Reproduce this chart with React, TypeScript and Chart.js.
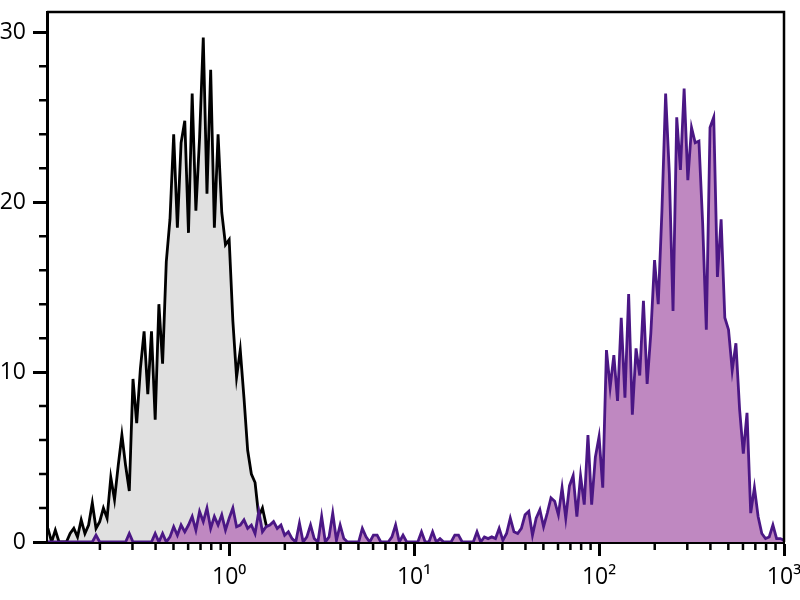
import { useEffect, useRef } from "react";
import { Chart, registerables, type ChartConfiguration, type Plugin } from "chart.js";

Chart.register(...registerables);

// histogram bins are evenly spaced in log10(fluorescence)
const BIN_START = -0.98;
const BIN_WIDTH = 0.02;

const X_MIN = -0.985;
const X_MAX = 3;
const Y_MAX = 31.2;

const DECADES = [0, 1, 2, 3];
const DECADE_LABELS = ["10⁰", "10¹", "10²", "10³"];
const COUNT_TICKS = [0, 10, 20, 30];

// unstained control (grey)
const CONTROL_COUNTS = [
  0.8, 0, 0.7, 0, 0, 0, 0.5, 0.8, 0.3, 1.3,
  0.5, 1.0, 2.3, 0.8, 1.2, 2.0, 1.4, 3.8, 2.5, 4.5,
  6.3, 4.5, 3.0, 9.6, 7.0, 10.2, 12.4, 8.7, 12.4, 7.2,
  14.0, 10.5, 16.5, 19.0, 24.0, 18.5, 23.5, 24.8, 18.2, 26.4,
  19.5, 23.8, 29.7, 20.5, 27.8, 18.5, 24.0, 19.4, 17.5, 17.8,
  13.0, 9.7, 11.3, 8.5, 5.4, 4.0, 3.5, 1.5, 2.0, 1.0,
  0.3, 0,
];

// stained sample (purple)
const STAINED_COUNTS = [
  0, 0, 0, 0, 0, 0, 0, 0, 0, 0,
  0, 0, 0, 0.4, 0, 0, 0, 0, 0, 0,
  0, 0, 0.5, 0, 0, 0, 0, 0, 0, 0.5,
  0, 0.5, 0, 0.3, 0.9, 0.4, 1.0, 0.6, 1.0, 1.5,
  0.7, 1.8, 1.2, 2.0, 0.8, 1.5, 1.0, 1.6, 0.7, 1.4,
  2.0, 0.9, 1.0, 1.3, 0.8, 1.0, 0.5, 1.8, 0.6, 0.9,
  1.0, 1.2, 0.8, 1.0, 0.4, 0.6, 0.2, 0, 1.1, 0,
  0.3, 1.0, 0.2, 0, 1.5, 0, 0.3, 1.7, 0.1, 1.0,
  0.2, 0, 0, 0, 0, 0.8, 0.3, 0, 0.4, 0.4,
  0, 0, 0, 0.3, 1.0, 0, 0.4, 0, 0, 0,
  0, 0.6, 0, 0, 0.6, 0, 0.2, 0, 0, 0,
  0.4, 0.4, 0, 0, 0, 0, 0.6, 0, 0.3, 0.2,
  0.3, 0.2, 0.8, 0.1, 0.5, 1.4, 0.6, 0.5, 0.8, 1.6,
  1.8, 0.4, 1.4, 1.9, 0.9, 1.7, 2.6, 2.4, 1.6, 3.2,
  1.4, 3.3, 3.9, 1.5, 3.9, 2.2, 6.3, 2.2, 5.0, 6.2,
  3.2, 11.3, 9.1, 11.0, 8.3, 13.2, 8.5, 14.6, 7.5, 11.4,
  9.8, 14.2, 9.3, 12.3, 16.6, 14.0, 19.5, 26.4, 21.7, 13.6,
  25.0, 21.9, 26.7, 21.3, 24.4, 23.5, 23.6, 18.8, 12.5, 24.4,
  25.0, 15.6, 19.0, 13.2, 12.5, 10.1, 11.7, 7.8, 5.2, 7.6,
  1.7, 3.2, 1.5, 0.5, 0.2, 0.3, 1.0, 0.2, 0.2, 0.1,
];

const toPoints = (counts: number[]) =>
  counts.map((y, i) => ({ x: BIN_START + i * BIN_WIDTH, y }));

const FONT = { family: "'Open Sans', sans-serif", size: 23 };

// minor ticks + top/right frame
const frameAndMinorTicks: Plugin<"line"> = {
  id: "frameAndMinorTicks",
  afterDraw(chart) {
    const { ctx, chartArea: a } = chart;
    const xs = chart.scales.x;
    const ys = chart.scales.y;
    ctx.save();
    ctx.strokeStyle = "#000";
    ctx.lineWidth = 2.5;
    ctx.beginPath();
    ctx.moveTo(a.left, a.top);
    ctx.lineTo(a.right, a.top);
    ctx.lineTo(a.right, a.bottom);
    for (let d = -1; d < 3; d++) {
      for (let k = 2; k < 10; k++) {
        const v = d + Math.log10(k);
        if (v < X_MIN) continue;
        const px = xs.getPixelForValue(v);
        ctx.moveTo(px, a.bottom);
        ctx.lineTo(px, a.bottom + 8);
      }
    }
    for (let v = 2; v < 31; v += 2) {
      if (v % 10 === 0) continue;
      const py = ys.getPixelForValue(v);
      ctx.moveTo(a.left, py);
      ctx.lineTo(a.left - 8, py);
    }
    ctx.stroke();
    ctx.restore();
  },
};

export default function App() {
  const canvasRef = useRef<HTMLCanvasElement>(null);

  useEffect(() => {
    if (!canvasRef.current) return;

    const axisGrid = {
      display: true,
      drawOnChartArea: false,
      drawTicks: true,
      tickLength: 14,
      tickWidth: 3,
      tickColor: "#000",
    };

    const config: ChartConfiguration<"line"> = {
      type: "line",
      data: {
        datasets: [
          {
            label: "stained",
            data: toPoints(STAINED_COUNTS),
            borderColor: "#4b1785",
            backgroundColor: "#bf88c1",
            borderWidth: 2.8,
            fill: "origin",
            pointRadius: 0,
            tension: 0,
            order: 0,
          },
          {
            label: "control",
            data: toPoints(CONTROL_COUNTS),
            borderColor: "#000000",
            backgroundColor: "#e0e0e0",
            borderWidth: 2.8,
            fill: "origin",
            pointRadius: 0,
            tension: 0,
            order: 1,
          },
        ],
      },
      options: {
        responsive: true,
        maintainAspectRatio: false,
        animation: false,
        layout: { padding: { top: 12, left: 0, right: 16, bottom: 0 } },
        plugins: {
          legend: { display: false },
          tooltip: { enabled: false },
        },
        scales: {
          x: {
            type: "linear",
            min: X_MIN,
            max: X_MAX,
            afterBuildTicks: (scale) => {
              scale.ticks = DECADES.map((value) => ({ value }));
            },
            afterFit: (scale) => {
              scale.height = 58;
              scale.paddingLeft = 0;
              scale.paddingRight = 0;
            },
            ticks: {
              color: "#000",
              font: FONT,
              padding: 8,
              maxRotation: 0,
              autoSkip: false,
              callback: (value) => DECADE_LABELS[DECADES.indexOf(Number(value))] ?? "",
            },
            grid: axisGrid,
            border: { display: true, color: "#000", width: 3 },
          },
          y: {
            type: "linear",
            min: 0,
            max: Y_MAX,
            afterBuildTicks: (scale) => {
              scale.ticks = COUNT_TICKS.map((value) => ({ value }));
            },
            afterFit: (scale) => {
              scale.width = 47;
              scale.paddingTop = 0;
              scale.paddingBottom = 0;
            },
            ticks: {
              color: "#000",
              font: FONT,
              padding: 7,
              autoSkip: false,
            },
            grid: axisGrid,
            border: { display: true, color: "#000", width: 3 },
          },
        },
      },
      plugins: [frameAndMinorTicks],
    };

    const chart = new Chart(canvasRef.current, config);
    return () => chart.destroy();
  }, []);

  return (
    <div style={{ position: "absolute", left: 0, top: 0, width: 800, height: 600, background: "#fff" }}>
      <canvas ref={canvasRef} />
    </div>
  );
}
